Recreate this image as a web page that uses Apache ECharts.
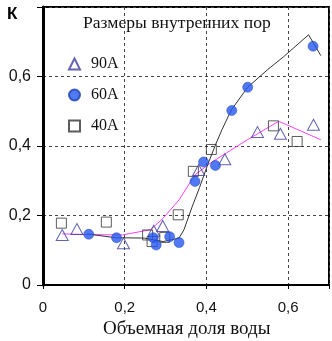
<!DOCTYPE html>
<html>
<head>
<meta charset="utf-8">
<script src="https://cdn.jsdelivr.net/npm/echarts@6/dist/echarts.min.js"></script>
<style>
html,body{margin:0;padding:0;background:#fff;}
#c{width:332px;height:341px;}
</style>
</head>
<body>
<div id="c"></div>
<script>
// Data
const xTicks = [0, 0.2, 0.4, 0.6];
const yTicks = [0, 0.2, 0.4, 0.6];

const x90 = [0.047, 0.083, 0.197, 0.271, 0.293, 0.381, 0.445, 0.525, 0.581, 0.662];
const y90 = [0.144, 0.161, 0.120, 0.156, 0.170, 0.331, 0.362, 0.440, 0.435, 0.461];

const x60 = [0.112, 0.180, 0.270, 0.277, 0.310, 0.333, 0.372, 0.393, 0.422, 0.462, 0.501, 0.661];
const y60 = [0.146, 0.136, 0.136, 0.115, 0.139, 0.122, 0.298, 0.354, 0.344, 0.502, 0.569, 0.687];

const x40 = [0.045, 0.155, 0.256, 0.267, 0.298, 0.331, 0.368, 0.412, 0.564, 0.622];
const y40 = [0.178, 0.181, 0.144, 0.125, 0.137, 0.202, 0.327, 0.390, 0.458, 0.413];

// fitted curves
const xFitBlack = [0.108, 0.178, 0.248, 0.294, 0.333, 0.345, 0.364, 0.383, 0.403, 0.422, 0.438, 0.461, 0.501, 0.549, 0.588, 0.650, 0.680];
const yFitBlack = [0.147, 0.136, 0.135, 0.125, 0.135, 0.159, 0.222, 0.280, 0.346, 0.403, 0.447, 0.504, 0.569, 0.619, 0.656, 0.720, 0.660];

const xFitPink = [0.047, 0.120, 0.194, 0.263, 0.294, 0.333, 0.372, 0.410, 0.449, 0.503, 0.577, 0.680];
const yFitPink = [0.147, 0.145, 0.144, 0.159, 0.192, 0.245, 0.317, 0.351, 0.380, 0.420, 0.471, 0.418];

const zip = (a, b) => a.map((v, i) => [v, b[i]]);
const fmt = v => String(v).replace('.', ',');

const chart = echarts.init(document.getElementById('c'), null, {renderer: 'canvas'});
const serif = 'Liberation Serif';
const sans = 'Liberation Sans';

chart.setOption({
  animation: false,
  backgroundColor: '#fff',
  grid: {left: 43, top: 7, right: -13, bottom: 56, show: true, borderColor: '#000', borderWidth: 2, backgroundColor: 'transparent'},
  xAxis: {
    type: 'value', min: 0, max: 0.7, interval: 0.2,
    axisLine: {show: true, lineStyle: {color: '#000', width: 2}},
    axisTick: {show: true, length: 4, lineStyle: {color: '#000'}},
    axisLabel: {margin: 15, fontFamily: sans, fontSize: 15, color: '#111',
      formatter: v => xTicks.some(t => Math.abs(t - v) < 1e-9) ? fmt(v) : ''},
    splitLine: {show: true, lineStyle: {color: '#444', type: [3, 3], width: 1}}
  },
  yAxis: {
    type: 'value', min: 0, max: 0.8, interval: 0.2,
    axisLine: {show: true, lineStyle: {color: '#000', width: 3}},
    axisTick: {show: true, length: 6, lineStyle: {color: '#000'}},
    axisLabel: {margin: 12, fontFamily: sans, fontSize: 16, color: '#111',
      formatter: v => yTicks.some(t => Math.abs(t - v) < 1e-9) ? fmt(v) : ''},
    splitLine: {show: true, lineStyle: {color: '#444', type: [3, 3], width: 1}}
  },
  legend: {
    orient: 'vertical', left: 63, top: 51, itemWidth: 11, itemHeight: 11, itemGap: 15,
    textStyle: {fontFamily: serif, fontSize: 16, color: '#111', padding: [0, 0, 0, 6]},
    data: ['90A', '60A', '40A']
  },
  graphic: [
    {type: 'text', left: 7, top: 6, style: {text: 'К', fontFamily: sans, fontWeight: 'bold', fontSize: 17, fill: '#000'}},
    {type: 'text', left: 83, top: 14, style: {text: 'Размеры внутренних пор', fontFamily: serif, fontSize: 17.6, fill: '#111'}},
    {type: 'text', left: 103, top: 320, style: {text: 'Объемная доля воды', fontFamily: serif, fontSize: 19, fill: '#111'}}
  ],
  series: [
    {type: 'line', data: zip(xFitPink, yFitPink), showSymbol: false, symbol: 'none', lineStyle: {color: '#ff40ff', width: 1}, z: 2, silent: true},
    {type: 'line', data: zip(xFitBlack, yFitBlack), showSymbol: false, symbol: 'none', lineStyle: {color: '#333', width: 1}, z: 2, silent: true},
    {name: '40A', type: 'scatter', data: zip(x40, y40), symbol: 'rect', symbolSize: 10,
      itemStyle: {color: 'rgba(255,255,255,0)', borderColor: '#333', borderWidth: 1}, z: 3},
    {name: '90A', type: 'scatter', data: zip(x90, y90), symbol: 'triangle', symbolSize: [12, 11],
      itemStyle: {color: 'rgba(255,255,255,0)', borderColor: '#3c3c9c', borderWidth: 1}, z: 4},
    {name: '60A', type: 'scatter', data: zip(x60, y60), symbol: 'circle', symbolSize: 10,
      itemStyle: {color: '#2457f0', borderColor: '#1a3fb0', borderWidth: 0.6}, z: 5}
  ]
});
</script>
</body>
</html>
